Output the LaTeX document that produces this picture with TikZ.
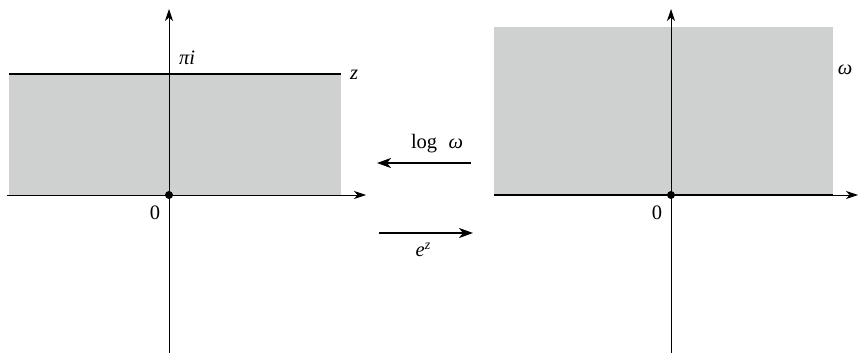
\documentclass[tikz,border=0pt]{standalone}
\usepackage{fontspec}
\setmainfont{Liberation Serif}
\usetikzlibrary{arrows.meta}
\definecolor{regiongray}{RGB}{207,209,209}
\begin{document}
\begin{tikzpicture}[x=1pt,y=-1pt,
  axis/.style={line width=0.9pt,-{Stealth[length=12pt,width=8pt,inset=3.5pt]}},
  thickline/.style={line width=2.2pt},
  maparrow/.style={line width=2.2pt,-{Stealth[length=14pt,width=10pt,inset=4pt]}},
  lbl/.style={inner sep=0pt,font=\fontsize{20.5}{23}\selectfont},
  dot/.style={circle,fill=black,inner sep=0pt,minimum size=8pt}]
\useasboundingbox (0,0) rectangle (858,353);
% left panel
\fill[regiongray] (9,74) rectangle (341,195);
\draw[thickline] (9,74) -- (341,74);
\draw[axis] (7,195) -- (366,195);
\draw[axis] (169,353) -- (169,9);
\node[dot] (o1) at (169,195) {};
\node[lbl] (zero1) at (155,213) {0};
\node[lbl] (pii) at (187,58) {\textit{πi}};
\node[lbl] (zl) at (354,75) {\textit{z}};
% middle arrows
\coordinate (la) at (471,163);
\coordinate (lb) at (377,163);
\draw[maparrow] (la) -- (lb);
\node[lbl] (log) at (437,144) {log\hspace{0.55em}\textit{ω}};
\coordinate (ea) at (379,233);
\coordinate (eb) at (473,233);
\draw[maparrow] (ea) -- (eb);
\node[lbl] (ez) at (423,250) {\textit{e}\raisebox{0.75ex}{\fontsize{14}{16}\selectfont\textit{z}}};
% right panel
\fill[regiongray] (494,27) rectangle (833,195);
\draw[axis] (833,195) -- (858,195);
\draw[thickline] (494,195) -- (833,195);
\draw[axis] (671,353) -- (671,9);
\node[dot] (o2) at (671,195) {};
\node[lbl] (zero2) at (657,213) {0};
\node[lbl] (wl) at (845,70) {\textit{ω}};
\end{tikzpicture}
\end{document}
